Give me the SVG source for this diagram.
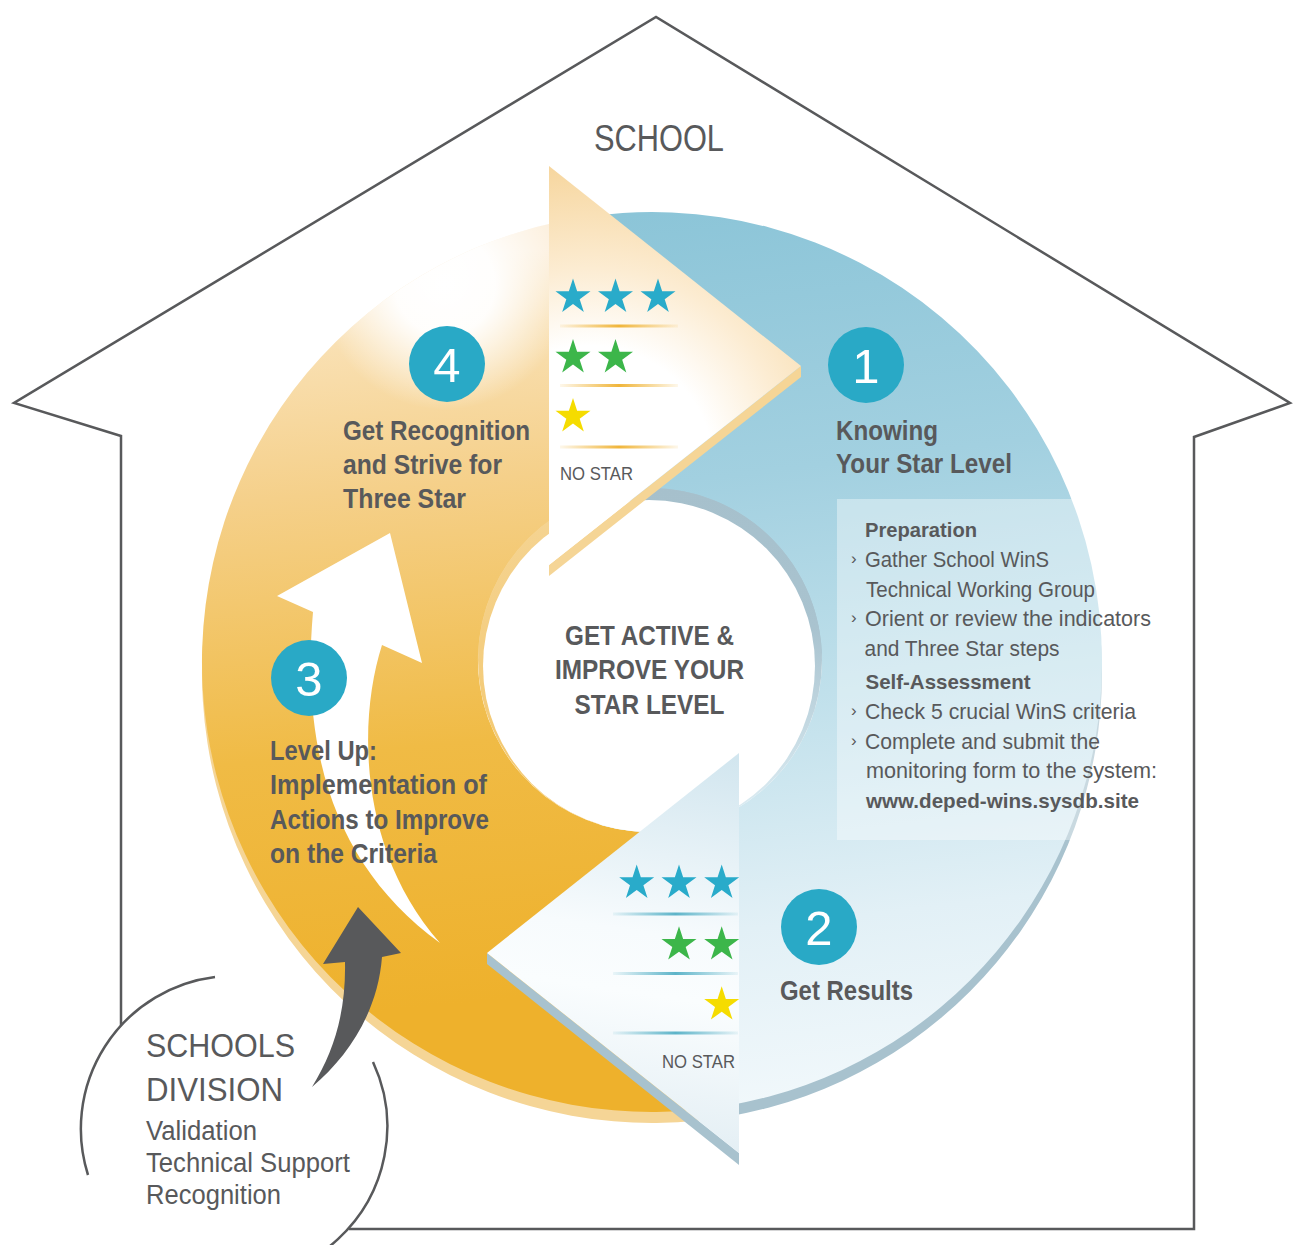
<svg xmlns="http://www.w3.org/2000/svg" width="1293" height="1245" viewBox="0 0 1293 1245">
<style>
.t{font-family:"Liberation Sans",Arial,sans-serif;fill:#58595b}
.h{font-size:28px;font-weight:bold}
.c{font-size:28px;font-weight:bold;text-anchor:middle}
.b{font-size:21.5px}
.bb{font-size:21px;font-weight:bold}
.bu{font-size:17px}
.ns{font-size:19px}
.num{font-family:"Liberation Sans",Arial,sans-serif;font-size:49px;fill:#fff;text-anchor:middle}
.nc{fill:#29a9c6}
.line{fill:none;stroke:#58595b;stroke-width:2.5}
</style>
<defs>
<path id="star" d="M0,-18.4 L4.13,-5.68 L17.5,-5.68 L6.69,2.18 L10.82,14.89 L0,7.03 L-10.82,14.89 L-6.69,2.18 L-17.5,-5.68 L-4.13,-5.68 Z"/>
<path id="orangeRing" d="M699.0,1109.5 A450,450 0 0 1 558.4,221.8 L614.2,491.8 A172,172 0 0 0 668.0,831.1 Z"/>
<path id="blueRing" d="M573.9,218.8 A450,450 0 0 1 1102,662 A450,450 0 0 1 730.1,1105.2 L679.9,829.4 A172,172 0 0 0 822,660 A172,172 0 0 0 620.1,490.6 Z"/>
<clipPath id="clipO"><use href="#orangeRing"/></clipPath>
<clipPath id="clipA"><circle cx="650" cy="660" r="172"/></clipPath>
<linearGradient id="gBlue" gradientUnits="userSpaceOnUse" x1="650" y1="212" x2="760" y2="1110">
<stop offset="0" stop-color="#8cc5d8"/><stop offset="0.3" stop-color="#a2d0e0"/><stop offset="0.55" stop-color="#c0e0eb"/><stop offset="0.8" stop-color="#e2f0f6"/><stop offset="1" stop-color="#f1f8fb"/>
</linearGradient>
<linearGradient id="gBlueHead" gradientUnits="userSpaceOnUse" x1="700" y1="753" x2="640" y2="1160">
<stop offset="0" stop-color="#d2e6ef"/><stop offset="0.45" stop-color="#f7fbfd"/><stop offset="0.6" stop-color="#fafdfe"/><stop offset="1" stop-color="#e1edf3"/>
</linearGradient>
<linearGradient id="gOrange" gradientUnits="userSpaceOnUse" x1="500" y1="1000" x2="430" y2="260">
<stop offset="0" stop-color="#eeb12c"/><stop offset="0.35" stop-color="#f0bb45"/><stop offset="0.7" stop-color="#f5d08a"/><stop offset="0.9" stop-color="#f9e0b3"/><stop offset="1" stop-color="#fcefdc"/>
</linearGradient>
<radialGradient id="gHi" gradientUnits="userSpaceOnUse" cx="445" cy="285" r="125">
<stop offset="0" stop-color="#fff" stop-opacity="1"/><stop offset="0.4" stop-color="#fff" stop-opacity="0.95"/><stop offset="1" stop-color="#fff" stop-opacity="0"/>
</radialGradient>
<radialGradient id="gOrangeHead" gradientUnits="userSpaceOnUse" cx="590" cy="470" r="310">
<stop offset="0" stop-color="#fff"/><stop offset="0.4" stop-color="#fff"/><stop offset="0.65" stop-color="#fcecd2"/><stop offset="1" stop-color="#f6d59c"/>
</radialGradient>
<linearGradient id="gLipB" gradientUnits="userSpaceOnUse" x1="0" y1="488" x2="0" y2="800">
<stop offset="0" stop-color="#a6c0cc"/><stop offset="0.45" stop-color="#a9c3cf"/><stop offset="1" stop-color="#d9eaf1"/>
</linearGradient>
<linearGradient id="gLipO" gradientUnits="userSpaceOnUse" x1="0" y1="488" x2="0" y2="800">
<stop offset="0" stop-color="#f5d596"/><stop offset="1" stop-color="#f3c76c"/>
</linearGradient>
<linearGradient id="gLineO" x1="0" y1="0" x2="1" y2="0">
<stop offset="0" stop-color="#f0b53a" stop-opacity="0.1"/><stop offset="0.5" stop-color="#f0b53a"/><stop offset="1" stop-color="#f0b53a" stop-opacity="0.1"/>
</linearGradient>
<linearGradient id="gLineB" x1="0" y1="0" x2="1" y2="0">
<stop offset="0" stop-color="#5db4c9" stop-opacity="0.1"/><stop offset="0.5" stop-color="#5db4c9"/><stop offset="1" stop-color="#5db4c9" stop-opacity="0.1"/>
</linearGradient>
</defs>

<g id="house">
<path class="line" d="M121,1025 L121,436 L14,403 L656,17 L1290,403 L1194,437 L1194,1229 L349,1229"/>
<text class="t" x="594" y="151" style="font-size:37px" textLength="130" lengthAdjust="spacingAndGlyphs">SCHOOL</text>
</g>

<g id="cycle">
<use href="#orangeRing" transform="translate(0,11)" fill="#f5d596"/>
<use href="#blueRing" transform="translate(0,11)" fill="#a8c2ce"/>
<use href="#orangeRing" fill="url(#gOrange)"/>
<rect x="300" y="150" width="300" height="290" fill="url(#gHi)" clip-path="url(#clipO)"/>
<use href="#blueRing" fill="url(#gBlue)"/>
<g clip-path="url(#clipA)">
<rect x="470" y="480" width="130" height="360" fill="url(#gLipO)"/>
<rect x="600" y="480" width="230" height="360" fill="url(#gLipB)"/>
</g>
<circle cx="649" cy="666" r="166" fill="#fff"/>
<rect x="837" y="499" width="275" height="341" fill="#fff" fill-opacity="0.38"/>
<path d="M440,943 C340,870 300,760 313,612 L277,596 L390,533 L422,663 L382,645 C358,720 358,850 440,943 Z" fill="#fff"/>
<polygon points="801,366 801,377 549,576 549,565" fill="#f5d596"/>
<polygon points="549,166 801,366 549,565" fill="url(#gOrangeHead)"/>
<polygon points="487,953 487,964 739,1165 739,1153" fill="#a8c2ce"/>
<polygon points="739,753 487,953 739,1153" fill="url(#gBlueHead)"/>
</g>

<g id="ratings-top">
<use href="#star" x="573" y="297" fill="#29abca"/>
<use href="#star" x="615.5" y="297" fill="#29abca"/>
<use href="#star" x="658" y="297" fill="#29abca"/>
<rect x="560" y="324.5" width="118" height="3" fill="url(#gLineO)"/>
<use href="#star" x="573" y="357.5" fill="#3cb64a"/>
<use href="#star" x="615.5" y="357.5" fill="#3cb64a"/>
<rect x="560" y="384" width="118" height="3" fill="url(#gLineO)"/>
<use href="#star" x="573" y="416.5" fill="#f5dc00"/>
<rect x="560" y="445.5" width="118" height="3" fill="url(#gLineO)"/>
<text class="t ns" x="560" y="480" textLength="73" lengthAdjust="spacingAndGlyphs">NO STAR</text>
</g>

<g id="ratings-bottom">
<use href="#star" x="636.7" y="883" fill="#29abca"/>
<use href="#star" x="679" y="883" fill="#29abca"/>
<use href="#star" x="721.7" y="883" fill="#29abca"/>
<rect x="613" y="912.5" width="125" height="3" fill="url(#gLineB)"/>
<use href="#star" x="679" y="944.7" fill="#3cb64a"/>
<use href="#star" x="721.7" y="944.7" fill="#3cb64a"/>
<rect x="613" y="972" width="125" height="3" fill="url(#gLineB)"/>
<use href="#star" x="721.7" y="1004.7" fill="#f5dc00"/>
<rect x="613" y="1031.5" width="125" height="3" fill="url(#gLineB)"/>
<text class="t ns" x="662" y="1068" textLength="73" lengthAdjust="spacingAndGlyphs">NO STAR</text>
</g>

<g id="center">
<text class="t c" x="649.5" y="645" textLength="169" lengthAdjust="spacingAndGlyphs">GET ACTIVE &amp;</text>
<text class="t c" x="649.5" y="679" textLength="189" lengthAdjust="spacingAndGlyphs">IMPROVE YOUR</text>
<text class="t c" x="649.5" y="713.5" textLength="150" lengthAdjust="spacingAndGlyphs">STAR LEVEL</text>
</g>

<g id="step1">
<circle class="nc" cx="866" cy="365" r="38"/>
<text class="num" x="866" y="382.5">1</text>
<text class="t h" x="836" y="439.5" textLength="102" lengthAdjust="spacingAndGlyphs">Knowing</text>
<text class="t h" x="836" y="473" textLength="176" lengthAdjust="spacingAndGlyphs">Your Star Level</text>
</g>

<g id="step1-details">
<text class="t bb" x="865" y="537" textLength="112" lengthAdjust="spacingAndGlyphs">Preparation</text>
<text class="t bu" x="851" y="564">›</text>
<text class="t b" x="865" y="567" textLength="184" lengthAdjust="spacingAndGlyphs">Gather School WinS</text>
<text class="t b" x="866" y="597" textLength="229" lengthAdjust="spacingAndGlyphs">Technical Working Group</text>
<text class="t bu" x="851" y="623">›</text>
<text class="t b" x="865" y="626" textLength="286" lengthAdjust="spacingAndGlyphs">Orient or review the indicators</text>
<text class="t b" x="864.5" y="655.5" textLength="195" lengthAdjust="spacingAndGlyphs">and Three Star steps</text>
<text class="t bb" x="865.5" y="689" textLength="165" lengthAdjust="spacingAndGlyphs">Self-Assessment</text>
<text class="t bu" x="851" y="716">›</text>
<text class="t b" x="865" y="719" textLength="271" lengthAdjust="spacingAndGlyphs">Check 5 crucial WinS criteria</text>
<text class="t bu" x="851" y="746">›</text>
<text class="t b" x="865" y="749" textLength="235" lengthAdjust="spacingAndGlyphs">Complete and submit the</text>
<text class="t b" x="866" y="778" textLength="291" lengthAdjust="spacingAndGlyphs">monitoring form to the system:</text>
<text class="t bb" x="866" y="807.5" textLength="273" lengthAdjust="spacingAndGlyphs">www.deped-wins.sysdb.site</text>
</g>

<g id="step2">
<circle class="nc" cx="819" cy="927" r="38"/>
<text class="num" x="819" y="944.5">2</text>
<text class="t h" x="780" y="1000" textLength="133" lengthAdjust="spacingAndGlyphs">Get Results</text>
</g>

<g id="step3">
<circle class="nc" cx="309" cy="678" r="38"/>
<text class="num" x="309" y="695.5">3</text>
<text class="t h" x="270" y="759.5" textLength="107" lengthAdjust="spacingAndGlyphs">Level Up:</text>
<text class="t h" x="270" y="794" textLength="217" lengthAdjust="spacingAndGlyphs">Implementation of</text>
<text class="t h" x="270" y="828.5" textLength="219" lengthAdjust="spacingAndGlyphs">Actions to Improve</text>
<text class="t h" x="270" y="863" textLength="167" lengthAdjust="spacingAndGlyphs">on the Criteria</text>
</g>

<g id="step4">
<circle class="nc" cx="447" cy="364" r="38"/>
<text class="num" x="447" y="381.5">4</text>
<text class="t h" x="343" y="439.5" textLength="187" lengthAdjust="spacingAndGlyphs">Get Recognition</text>
<text class="t h" x="343" y="473.5" textLength="159" lengthAdjust="spacingAndGlyphs">and Strive for</text>
<text class="t h" x="343" y="508" textLength="123" lengthAdjust="spacingAndGlyphs">Three Star</text>
</g>

<g id="division">
<path class="line" d="M215,977 A153,153 0 0 0 88,1175"/>
<path class="line" d="M373,1062 A153,153 0 0 1 158.5,1259.5"/>
<text class="t" x="146" y="1057" style="font-size:34px" textLength="149" lengthAdjust="spacingAndGlyphs">SCHOOLS</text>
<text class="t" x="146" y="1101" style="font-size:34px" textLength="137" lengthAdjust="spacingAndGlyphs">DIVISION</text>
<text class="t" x="146" y="1140" style="font-size:27px" textLength="111" lengthAdjust="spacingAndGlyphs">Validation</text>
<text class="t" x="146" y="1172" style="font-size:27px" textLength="204" lengthAdjust="spacingAndGlyphs">Technical Support</text>
<text class="t" x="146" y="1203.5" style="font-size:27px" textLength="135" lengthAdjust="spacingAndGlyphs">Recognition</text>
</g>

<g id="connectors">
<path d="M312,1087 C335,1050 346,1010 345,962 L323,964 L358,907 L401,953 L382,957 C378,1010 350,1055 312,1087 Z" fill="#58595b"/>
</g>
</svg>
